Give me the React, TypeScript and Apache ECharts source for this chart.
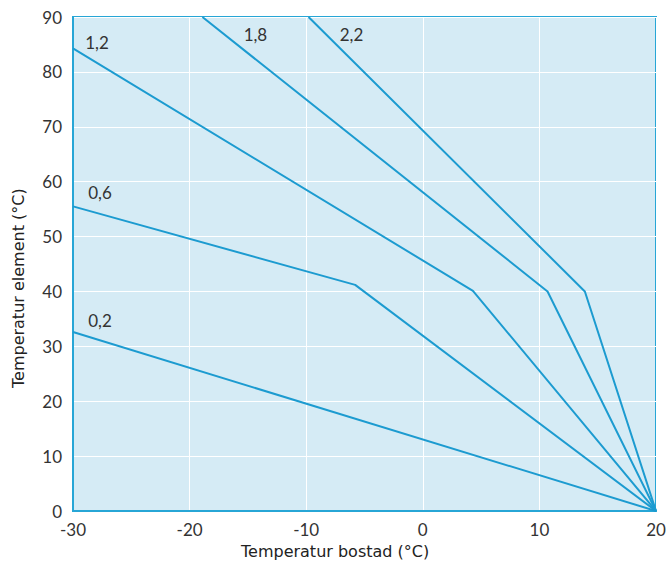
import React, { useEffect, useRef } from "react";
import * as echarts from "echarts";

const xTicks = [-30, -20, -10, 0, 10, 20];
const curveNames = ["0,2", "0,6", "1,2", "1,8", "2,2"];
const curve02: [number, number][] = [[-30, 32.6], [20, 0]];
const curve06: [number, number][] = [[-30, 55.5], [-5.8, 41.2], [20, 0]];
const curve12: [number, number][] = [[-30, 84.3], [4.3, 40.1], [20, 0]];
const curve18: [number, number][] = [[-18.9, 90], [10.7, 40], [20, 0]];
const curve22: [number, number][] = [[-9.8, 90], [13.9, 40], [20, 0]];
const curves = [curve02, curve06, curve12, curve18, curve22];
const labelOffsets: [number, number][] = [[27, 2], [27, 0], [24, 8], [53, 30.5], [43, 30.5]];

const LINE = "#1c9bd0";
const TEXT = "#333333";
const FONT = "Lato, 'Open Sans', sans-serif";
const TITLE_FONT = "'DejaVu Sans', 'Open Sans', sans-serif";

export default function App() {
  const ref = useRef<HTMLDivElement>(null);
  useEffect(() => {
    if (!ref.current) return;
    const chart = echarts.init(ref.current, undefined, { renderer: "svg" });
    chart.setOption({
      animation: false,
      textStyle: { fontFamily: FONT },
      grid: {
        left: 73,
        right: 13,
        top: 17,
        bottom: 51,
        show: true,
        backgroundColor: "#d5ebf5",
        borderColor: "#27a6d6",
        borderWidth: 2,
      },
      xAxis: {
        type: "value",
        min: xTicks[0],
        max: xTicks[xTicks.length - 1],
        interval: 10,
        axisLine: { show: true, onZero: false, lineStyle: { color: "#27a6d6", width: 2 } },
        axisTick: { show: false },
        splitLine: { show: true, lineStyle: { color: "#ffffff", width: 1 } },
        axisLabel: { color: TEXT, fontSize: 17, lineHeight: 14, margin: 11, fontFamily: FONT },
      },
      yAxis: {
        type: "value",
        min: 0,
        max: 90,
        interval: 10,
        axisLine: { show: true, onZero: false, lineStyle: { color: "#27a6d6", width: 2 } },
        axisTick: { show: false },
        splitLine: { show: true, lineStyle: { color: "#ffffff", width: 1 } },
        axisLabel: { color: TEXT, fontSize: 17, margin: 11, fontFamily: FONT },
      },
      graphic: [
        {
          type: "text",
          x: 241,
          y: 551,
          style: {
            text: "Temperatur bostad (°C)",
            fill: "#222",
            font: `16px ${TITLE_FONT}`,
            lineHeight: 16,
            align: "left",
            verticalAlign: "middle",
          },
        },
        {
          type: "text",
          x: 18,
          y: 388,
          rotation: Math.PI / 2,
          style: {
            text: "Temperatur element (°C)",
            fill: "#222",
            font: `16px ${TITLE_FONT}`,
            lineHeight: 16,
            align: "left",
            verticalAlign: "middle",
          },
        },
      ],
      series: curves.map((c, i) => ({
        type: "line",
        name: curveNames[i],
        symbol: "circle",
        symbolSize: 0,
        showSymbol: true,
        clip: true,
        lineStyle: { color: LINE, width: 2 },
        itemStyle: { color: LINE },
        emphasis: { disabled: true },
        data: c.map((p, j) =>
          j === 0
            ? {
                value: p,
                label: {
                  show: true,
                  formatter: curveNames[i],
                  position: "top",
                  offset: labelOffsets[i],
                  color: TEXT,
                  fontSize: 17,
                  fontFamily: FONT,
                },
              }
            : { value: p, label: { show: false } }
        ),
      })),
    });
    return () => chart.dispose();
  }, []);
  return <div ref={ref} style={{ width: 669, height: 562, position: "absolute", left: 0, top: 0 }} />;
}
